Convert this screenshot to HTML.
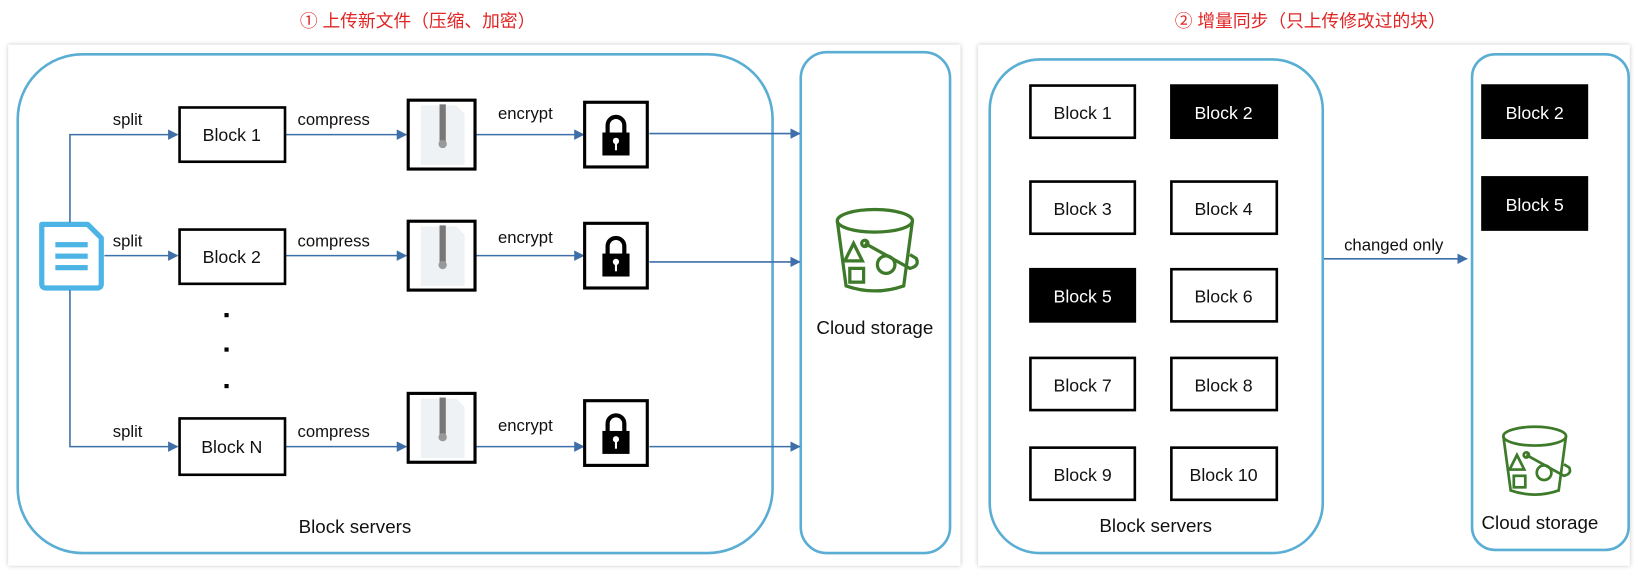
<!DOCTYPE html>
<html><head><meta charset="utf-8"><style>
html,body{margin:0;padding:0;background:#fff;}
svg{display:block;}
text{font-family:"Liberation Sans","Noto Sans CJK SC",sans-serif;fill:#111;}
</style></head><body>
<svg width="1637" height="576" viewBox="0 0 1568 552" preserveAspectRatio="none" xmlns="http://www.w3.org/2000/svg">
<defs>
<marker id="ar" markerWidth="10" markerHeight="10" refX="9" refY="5" orient="auto" markerUnits="userSpaceOnUse"><path d="M0,0 L10,5 L0,10 z" fill="#3f6fa8"/></marker>
<filter id="sh" x="-5%" y="-5%" width="110%" height="110%"><feDropShadow dx="0" dy="0" stdDeviation="2" flood-color="#000" flood-opacity="0.25"/></filter>
<g id="bucket" fill="none" stroke="#3d7a2a" stroke-width="2.6">
<ellipse cx="0" cy="-22" rx="30" ry="9"/>
<path d="M-30,-22 L-23,30 Q0,38 23,30 L30,-22"/>
<path d="M-8,-4 L28,16 Q36,14 33,8 L28,5"/>
<circle cx="-8" cy="-4" r="2.5"/>
<path d="M-17,-4 L-24,10 L-10,10 z"/>
<rect x="-20" y="16" width="11" height="11"/>
<circle cx="9" cy="13" r="7"/>
</g>
<g id="zip">
<rect x="0" y="0" width="64" height="66" fill="#fff" stroke="#000" stroke-width="3"/>
<path d="M12,5 L46,5 L54,13 L54,62 L12,62 z" fill="#eef2f4"/>
<rect x="30" y="4" width="6" height="38" fill="#777"/>
<circle cx="33" cy="42" r="4" fill="#999"/>
</g>
<g id="lock">
<rect x="0" y="0" width="60" height="62" fill="#fff" stroke="#000" stroke-width="3"/>
<path d="M22,30 L22,22 A8,8 0 0 1 38,22 L38,30" fill="none" stroke="#000" stroke-width="4"/>
<rect x="17" y="29" width="26" height="22" fill="#000"/>
<circle cx="30" cy="37" r="3" fill="#fff"/><rect x="29" y="38" width="2" height="8" fill="#fff"/>
</g>
</defs>

<text x="400" y="26" font-size="17" text-anchor="middle" style="fill:#e02424">① 上传新文件（压缩、加密）</text>
<text x="1255" y="26" font-size="17" text-anchor="middle" style="fill:#e02424">② 增量同步（只上传修改过的块）</text>

<rect x="8" y="43" width="912" height="499" fill="#fff" filter="url(#sh)"/>
<rect x="937" y="43" width="624" height="499" fill="#fff" filter="url(#sh)"/>

<rect x="17" y="52" width="723" height="478" rx="62" fill="none" stroke="#5aaed4" stroke-width="2.5"/>
<rect x="767" y="50" width="143" height="480" rx="25" fill="none" stroke="#5aaed4" stroke-width="2.5"/>

<path d="M40,215 L84,215 L97,228 L97,272 Q97,276 93,276 L44,276 Q40,276 40,272 z" fill="#fff" stroke="#4db4e6" stroke-width="5" stroke-linejoin="round"/>
<rect x="53" y="232" width="31" height="5" fill="#4db4e6"/><rect x="53" y="243" width="31" height="5" fill="#4db4e6"/><rect x="53" y="254" width="31" height="5" fill="#4db4e6"/>

<g stroke="#3f6fa8" stroke-width="1.5" fill="none">
<path d="M67,213 L67,129 L170,129" marker-end="url(#ar)"/>
<path d="M100,245 L170,245" marker-end="url(#ar)"/>
<path d="M67,278 L67,428 L170,428" marker-end="url(#ar)"/>
<path d="M273,129 L389,129" marker-end="url(#ar)"/>
<path d="M273,245 L389,245" marker-end="url(#ar)"/>
<path d="M273,428 L389,428" marker-end="url(#ar)"/>
<path d="M455,129 L559,129" marker-end="url(#ar)"/>
<path d="M455,245 L559,245" marker-end="url(#ar)"/>
<path d="M455,428 L559,428" marker-end="url(#ar)"/>
<path d="M622,128 L766,128" marker-end="url(#ar)"/>
<path d="M622,251 L766,251" marker-end="url(#ar)"/>
<path d="M622,428 L766,428" marker-end="url(#ar)"/>
<path d="M1267,248 L1405,248" marker-end="url(#ar)"/>
</g>

<g font-size="16">
<text x="108" y="120">split</text><text x="108" y="236">split</text><text x="108" y="419">split</text>
<text x="285" y="120">compress</text><text x="285" y="236">compress</text><text x="285" y="419">compress</text>
<text x="477" y="114">encrypt</text><text x="477" y="233">encrypt</text><text x="477" y="413">encrypt</text>
</g>

<g fill="#fff" stroke="#000" stroke-width="2.5">
<rect x="172" y="103" width="101" height="52"/>
<rect x="172" y="220" width="101" height="52"/>
<rect x="172" y="401" width="101" height="54"/>
</g>
<g font-size="17" text-anchor="middle">
<text x="222" y="135">Block 1</text><text x="222" y="252">Block 2</text><text x="222" y="434">Block N</text>
</g>
<g fill="#000"><rect x="215" y="300" width="4" height="4"/><rect x="215" y="333" width="4" height="4"/><rect x="215" y="368" width="4" height="4"/></g>

<use href="#zip" x="391" y="96"/><use href="#zip" x="391" y="212"/><use href="#zip" x="391" y="377"/>
<use href="#lock" x="560" y="98"/><use href="#lock" x="560" y="214"/><use href="#lock" x="560" y="384"/>

<g transform="translate(838,238) scale(1.2)"><use href="#bucket"/></g>
<text x="838" y="320" font-size="18" text-anchor="middle">Cloud storage</text>
<text x="340" y="511" font-size="18" text-anchor="middle">Block servers</text>

<rect x="948" y="57" width="319" height="473" rx="48" fill="none" stroke="#5aaed4" stroke-width="2.5"/>
<rect x="1410" y="52" width="150" height="475" rx="22" fill="none" stroke="#5aaed4" stroke-width="2.5"/>
<g stroke="#000" stroke-width="2.5" fill="#fff">
<rect x="987" y="82" width="100" height="50"/>
<rect x="1122" y="82" width="101" height="50" fill="#000"/>
<rect x="987" y="174" width="100" height="50"/>
<rect x="1122" y="174" width="101" height="50"/>
<rect x="987" y="258" width="100" height="50" fill="#000"/>
<rect x="1122" y="258" width="101" height="50"/>
<rect x="987" y="343" width="100" height="50"/>
<rect x="1122" y="343" width="101" height="50"/>
<rect x="987" y="429" width="100" height="50"/>
<rect x="1122" y="429" width="101" height="50"/>
<rect x="1420" y="82" width="100" height="50" fill="#000"/>
<rect x="1420" y="170" width="100" height="50" fill="#000"/>
</g>
<g font-size="17" text-anchor="middle">
<text x="1037" y="114">Block 1</text><text x="1172" y="114" style="fill:#fff">Block 2</text>
<text x="1037" y="206">Block 3</text><text x="1172" y="206">Block 4</text>
<text x="1037" y="290" style="fill:#fff">Block 5</text><text x="1172" y="290">Block 6</text>
<text x="1037" y="375">Block 7</text><text x="1172" y="375">Block 8</text>
<text x="1037" y="461">Block 9</text><text x="1172" y="461">Block 10</text>
<text x="1470" y="114" style="fill:#fff">Block 2</text><text x="1470" y="202" style="fill:#fff">Block 5</text>
</g>
<text x="1335" y="240" font-size="16" text-anchor="middle">changed only</text>
<text x="1107" y="510" font-size="18" text-anchor="middle">Block servers</text>
<g transform="translate(1470,440)"><use href="#bucket"/></g>
<text x="1475" y="507" font-size="18" text-anchor="middle">Cloud storage</text>
</svg>
</body></html>
